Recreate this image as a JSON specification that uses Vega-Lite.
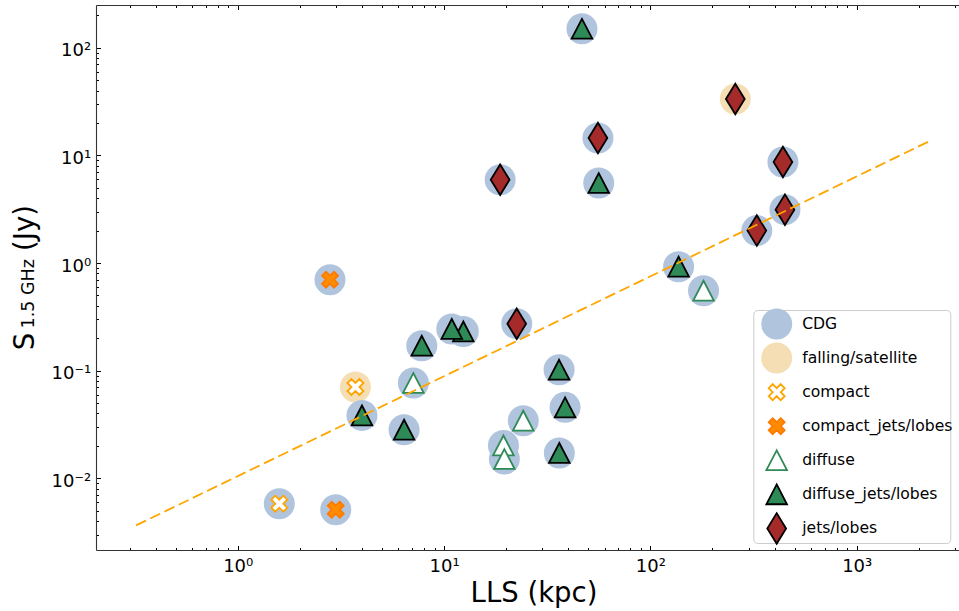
{
  "$schema": "https://vega.github.io/schema/vega-lite/v6.json",
  "width": 863,
  "height": 545,
  "autosize": {"type": "none"},
  "padding": {"left": 96, "top": 5, "right": 0, "bottom": 61},
  "background": "white",
  "config": {
    "font": "DejaVu Sans",
    "view": {"stroke": null},
    "axis": {"labelFont": "DejaVu Sans", "titleFont": "DejaVu Sans", "titleFontWeight": "normal", "titleColor": "#000", "labelColor": "#000", "grid": false},
    "legend": {"clipHeight": 34}
  },
  "datasets": {
    "points": [
      {"lls": 2.80, "s": 0.700, "host": "CDG", "morph": "compact_jets/lobes"},
      {"lls": 3.72, "s": 0.0705, "host": "falling/satellite", "morph": "compact"},
      {"lls": 4.00, "s": 0.0384, "host": "CDG", "morph": "diffuse_jets/lobes"},
      {"lls": 6.40, "s": 0.0283, "host": "CDG", "morph": "diffuse_jets/lobes"},
      {"lls": 7.10, "s": 0.0768, "host": "CDG", "morph": "diffuse"},
      {"lls": 7.80, "s": 0.1705, "host": "CDG", "morph": "diffuse_jets/lobes"},
      {"lls": 12.4, "s": 0.2315, "host": "CDG", "morph": "diffuse_jets/lobes"},
      {"lls": 10.9, "s": 0.244, "host": "CDG", "morph": "diffuse_jets/lobes"},
      {"lls": 22.5, "s": 0.273, "host": "CDG", "morph": "jets/lobes"},
      {"lls": 1.59, "s": 0.00581, "host": "CDG", "morph": "compact"},
      {"lls": 2.985, "s": 0.00511, "host": "CDG", "morph": "compact_jets/lobes"},
      {"lls": 24.2, "s": 0.0343, "host": "CDG", "morph": "diffuse"},
      {"lls": 19.4, "s": 0.0202, "host": "CDG", "morph": "diffuse"},
      {"lls": 19.6, "s": 0.0151, "host": "CDG", "morph": "diffuse"},
      {"lls": 36.1, "s": 0.102, "host": "CDG", "morph": "diffuse_jets/lobes"},
      {"lls": 38.6, "s": 0.0456, "host": "CDG", "morph": "diffuse_jets/lobes"},
      {"lls": 36.2, "s": 0.0172, "host": "CDG", "morph": "diffuse_jets/lobes"},
      {"lls": 46.6, "s": 150, "host": "CDG", "morph": "diffuse_jets/lobes"},
      {"lls": 55.7, "s": 14.5, "host": "CDG", "morph": "jets/lobes"},
      {"lls": 56.2, "s": 5.53, "host": "CDG", "morph": "diffuse_jets/lobes"},
      {"lls": 18.7, "s": 5.94, "host": "CDG", "morph": "jets/lobes"},
      {"lls": 258, "s": 33.4, "host": "falling/satellite", "morph": "jets/lobes"},
      {"lls": 439, "s": 8.68, "host": "CDG", "morph": "jets/lobes"},
      {"lls": 449, "s": 3.13, "host": "CDG", "morph": "jets/lobes"},
      {"lls": 328, "s": 2.0, "host": "CDG", "morph": "jets/lobes"},
      {"lls": 137, "s": 0.924, "host": "CDG", "morph": "diffuse_jets/lobes"},
      {"lls": 181, "s": 0.553, "host": "CDG", "morph": "diffuse"}
    ],
    "fit": [
      {"lls": 0.3214, "s": 0.003652},
      {"lls": 2241, "s": 13.48}
    ]
  },
  "layer": [
    {
      "data": {"name": "points"},
      "transform": [
        {"fold": ["host", "morph"], "as": ["kind", "cat"]},
        {"filter": "datum.kind === 'host'"}
      ],
      "mark": {"type": "point", "filled": true, "opacity": 1, "size": 961, "strokeWidth": 1.8},
      "encoding": {
        "x": {
          "field": "lls", "type": "quantitative",
          "scale": {"type": "log", "domain": [0.20562, 3132], "nice": false},
          "axis": {
            "orient": "bottom",
            "values": [0.3,0.4,0.5,0.6,0.7,0.8,0.9,1,2,3,4,5,6,7,8,9,10,20,30,40,50,60,70,80,90,100,200,300,400,500,600,700,800,900,1000,2000,3000],
            "tickSize": {"condition": {"test": "indexof([0.01,0.1,1,10,100,1000], datum.value) >= 0", "value": -4.5}, "value": -2.5},
            "tickColor": "#000", "tickWidth": 1,
            "domainColor": "#333", "domainWidth": 1.1,
            "labelExpr": "datum.value == 1 ? '10⁰' : datum.value == 10 ? '10¹' : datum.value == 100 ? '10²' : datum.value == 1000 ? '10³' : ''",
            "labelFontSize": 18, "labelBaseline": "alphabetic", "labelPadding": 26.2,
            "labelOverlap": false, "labelFlush": false,
            "title": "LLS (kpc)", "titleFontSize": 27.5,
            "titleX": 437.5, "titleY": 51.7, "titleAlign": "center", "titleBaseline": "alphabetic", "titleAngle": 0
          }
        },
        "y": {
          "field": "s", "type": "quantitative",
          "scale": {"type": "log", "domain": [0.002158, 249.3], "nice": false},
          "axis": {
            "orient": "left",
            "values": [0.003,0.004,0.005,0.006,0.007,0.008,0.009,0.01,0.02,0.03,0.04,0.05,0.06,0.07,0.08,0.09,0.1,0.2,0.3,0.4,0.5,0.6,0.7,0.8,0.9,1,2,3,4,5,6,7,8,9,10,20,30,40,50,60,70,80,90,100,200],
            "tickSize": {"condition": {"test": "indexof([0.01,0.1,1,10,100,1000], datum.value) >= 0", "value": -4.5}, "value": -2.5},
            "tickColor": "#000", "tickWidth": 1,
            "domainColor": "#333", "domainWidth": 1.1,
            "labelExpr": "datum.value == 0.01 ? '10⁻²' : datum.value == 0.1 ? '10⁻¹' : datum.value == 1 ? '10⁰' : datum.value == 10 ? '10¹' : datum.value == 100 ? '10²' : ''",
            "labelFontSize": 18, "labelBaseline": "alphabetic", "labelOffset": 8, "labelPadding": 9.8, "labelAlign": "right",
            "labelOverlap": false, "labelFlush": false,
            "title": "S", "titleFontSize": 27.5, "titleAngle": 270,
            "titleX": -62.5, "titleY": 336, "titleAlign": "center", "titleBaseline": "alphabetic"
          }
        },
        "shape": {
          "field": "cat", "type": "nominal",
          "scale": {
            "domain": ["CDG", "falling/satellite", "compact", "compact_jets/lobes", "diffuse", "diffuse_jets/lobes", "jets/lobes"],
            "range": ["circle", "circle",
              "M0.258,-0.516L0.516,-0.258L0.258,0L0.516,0.258L0.258,0.516L0,0.258L-0.258,0.516L-0.516,0.258L-0.258,0L-0.516,-0.258L-0.258,-0.516L0,-0.258Z",
              "M0.258,-0.516L0.516,-0.258L0.258,0L0.516,0.258L0.258,0.516L0,0.258L-0.258,0.516L-0.516,0.258L-0.258,0L-0.516,-0.258L-0.258,-0.516L0,-0.258Z",
              "M0,-0.64L0.665,0.64L-0.665,0.64Z",
              "M0,-0.64L0.665,0.64L-0.665,0.64Z",
              "M0,-0.987L0.606,0L0,0.987L-0.606,0Z"]
          },
          "legend": {"title": null, "orient": "none", "legendX": 657.3, "legendY": 305, "padding": -3, "symbolOffset": 9.9, "labelOffset": 9, "rowPadding": 0.07, "symbolSize": 961, "symbolStrokeWidth": 1.8, "symbolOpacity": 1, "labelFont": "DejaVu Sans", "labelFontSize": 15.6, "labelColor": "#000", "labelLimit": 400, "strokeColor": "#cccccc", "cornerRadius": 4, "fillColor": "rgba(255,255,255,0.8)"}
        },
        "fill": {
          "field": "cat", "type": "nominal",
          "scale": {
            "domain": ["CDG", "falling/satellite", "compact", "compact_jets/lobes", "diffuse", "diffuse_jets/lobes", "jets/lobes"],
            "range": ["#b0c4de", "#f5deb3", "#ffffff", "#ff8c00", "#ffffff", "#2e8b57", "#a52a2a"]
          },
          "legend": {"title": null, "orient": "none", "legendX": 657.3, "legendY": 305, "padding": -3, "symbolOffset": 9.9, "labelOffset": 9, "rowPadding": 0.07, "symbolSize": 961, "symbolStrokeWidth": 1.8, "symbolOpacity": 1, "labelFont": "DejaVu Sans", "labelFontSize": 15.6, "labelColor": "#000", "labelLimit": 400, "strokeColor": "#cccccc", "cornerRadius": 4, "fillColor": "rgba(255,255,255,0.8)"}
        },
        "stroke": {
          "field": "cat", "type": "nominal",
          "scale": {
            "domain": ["CDG", "falling/satellite", "compact", "compact_jets/lobes", "diffuse", "diffuse_jets/lobes", "jets/lobes"],
            "range": ["transparent", "transparent", "#ffa500", "#ff7a00", "#2e8b57", "#000000", "#000000"]
          },
          "legend": {"title": null, "orient": "none", "legendX": 657.3, "legendY": 305, "padding": -3, "symbolOffset": 9.9, "labelOffset": 9, "rowPadding": 0.07, "symbolSize": 961, "symbolStrokeWidth": 1.8, "symbolOpacity": 1, "labelFont": "DejaVu Sans", "labelFontSize": 15.6, "labelColor": "#000", "labelLimit": 400, "strokeColor": "#cccccc", "cornerRadius": 4, "fillColor": "rgba(255,255,255,0.8)"}
        }
      }
    },
    {
      "data": {"name": "points"},
      "transform": [
        {"fold": ["host", "morph"], "as": ["kind", "cat"]},
        {"filter": "datum.kind === 'morph'"}
      ],
      "mark": {"type": "point", "filled": true, "opacity": 1, "size": 961, "strokeWidth": 1.8},
      "encoding": {
        "x": {
          "field": "lls", "type": "quantitative",
          "scale": {"type": "log", "domain": [0.20562, 3132], "nice": false},
          "axis": {
            "orient": "top",
            "values": [0.3,0.4,0.5,0.6,0.7,0.8,0.9,1,2,3,4,5,6,7,8,9,10,20,30,40,50,60,70,80,90,100,200,300,400,500,600,700,800,900,1000,2000,3000],
            "tickSize": {"condition": {"test": "indexof([0.01,0.1,1,10,100,1000], datum.value) >= 0", "value": -4.5}, "value": -2.5},
            "tickColor": "#000", "tickWidth": 1,
            "domainColor": "#333", "domainWidth": 1.1,
            "labels": false, "title": null
          }
        },
        "y": {
          "field": "s", "type": "quantitative",
          "scale": {"type": "log", "domain": [0.002158, 249.3], "nice": false},
          "axis": {
            "orient": "left", "domain": false, "ticks": false, "labels": false,
            "title": "1.5 GHz", "titleFontSize": 17.5, "titleAngle": 270,
            "titleX": -62.7, "titleY": 288.3, "titleAlign": "center", "titleBaseline": "alphabetic"
          }
        },
        "shape": {
          "field": "cat", "type": "nominal",
          "scale": {
            "domain": ["CDG", "falling/satellite", "compact", "compact_jets/lobes", "diffuse", "diffuse_jets/lobes", "jets/lobes"],
            "range": ["circle", "circle",
              "M0.258,-0.516L0.516,-0.258L0.258,0L0.516,0.258L0.258,0.516L0,0.258L-0.258,0.516L-0.516,0.258L-0.258,0L-0.516,-0.258L-0.258,-0.516L0,-0.258Z",
              "M0.258,-0.516L0.516,-0.258L0.258,0L0.516,0.258L0.258,0.516L0,0.258L-0.258,0.516L-0.516,0.258L-0.258,0L-0.516,-0.258L-0.258,-0.516L0,-0.258Z",
              "M0,-0.64L0.665,0.64L-0.665,0.64Z",
              "M0,-0.64L0.665,0.64L-0.665,0.64Z",
              "M0,-0.987L0.606,0L0,0.987L-0.606,0Z"]
          },
          "legend": {"title": null, "orient": "none", "legendX": 657.3, "legendY": 305, "padding": -3, "symbolOffset": 9.9, "labelOffset": 9, "rowPadding": 0.07, "symbolSize": 961, "symbolStrokeWidth": 1.8, "symbolOpacity": 1, "labelFont": "DejaVu Sans", "labelFontSize": 15.6, "labelColor": "#000", "labelLimit": 400, "strokeColor": "#cccccc", "cornerRadius": 4, "fillColor": "rgba(255,255,255,0.8)"}
        },
        "fill": {
          "field": "cat", "type": "nominal",
          "scale": {
            "domain": ["CDG", "falling/satellite", "compact", "compact_jets/lobes", "diffuse", "diffuse_jets/lobes", "jets/lobes"],
            "range": ["#b0c4de", "#f5deb3", "#ffffff", "#ff8c00", "#ffffff", "#2e8b57", "#a52a2a"]
          },
          "legend": {"title": null, "orient": "none", "legendX": 657.3, "legendY": 305, "padding": -3, "symbolOffset": 9.9, "labelOffset": 9, "rowPadding": 0.07, "symbolSize": 961, "symbolStrokeWidth": 1.8, "symbolOpacity": 1, "labelFont": "DejaVu Sans", "labelFontSize": 15.6, "labelColor": "#000", "labelLimit": 400, "strokeColor": "#cccccc", "cornerRadius": 4, "fillColor": "rgba(255,255,255,0.8)"}
        },
        "stroke": {
          "field": "cat", "type": "nominal",
          "scale": {
            "domain": ["CDG", "falling/satellite", "compact", "compact_jets/lobes", "diffuse", "diffuse_jets/lobes", "jets/lobes"],
            "range": ["transparent", "transparent", "#ffa500", "#ff7a00", "#2e8b57", "#000000", "#000000"]
          },
          "legend": {"title": null, "orient": "none", "legendX": 657.3, "legendY": 305, "padding": -3, "symbolOffset": 9.9, "labelOffset": 9, "rowPadding": 0.07, "symbolSize": 961, "symbolStrokeWidth": 1.8, "symbolOpacity": 1, "labelFont": "DejaVu Sans", "labelFontSize": 15.6, "labelColor": "#000", "labelLimit": 400, "strokeColor": "#cccccc", "cornerRadius": 4, "fillColor": "rgba(255,255,255,0.8)"}
        }
      }
    },
    {
      "data": {"name": "fit"},
      "mark": {"type": "line", "color": "#ffa500", "strokeWidth": 1.8, "strokeDash": [11, 4.8]},
      "encoding": {
        "x": {
          "field": "lls", "type": "quantitative",
          "scale": {"type": "log", "domain": [0.20562, 3132], "nice": false},
          "axis": null
        },
        "y": {
          "field": "s", "type": "quantitative",
          "scale": {"type": "log", "domain": [0.002158, 249.3], "nice": false},
          "axis": {
            "orient": "left", "domain": false, "ticks": false, "labels": false,
            "title": "(Jy)", "titleFontSize": 27.5, "titleAngle": 270,
            "titleX": -62.5, "titleY": 222.5, "titleAlign": "center", "titleBaseline": "alphabetic"
          }
        }
      }
    }
  ],
  "resolve": {"axis": {"x": "independent", "y": "independent"}}
}
